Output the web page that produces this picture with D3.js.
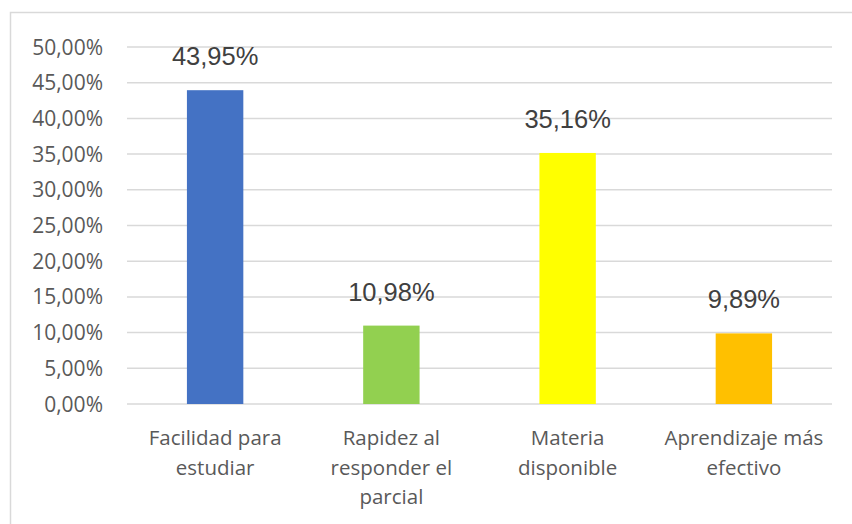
<!DOCTYPE html>
<html>
<head>
<meta charset="utf-8"/>
<script src="https://cdn.jsdelivr.net/npm/d3@7"></script>
<style>
html, body { margin: 0; padding: 0; background: #fff; }
.grid line { stroke: #d9d9d9; stroke-width: 1.5; }
.tick-label { font-family: "Open Sans", sans-serif; font-size: 21px; fill: #595959; }
.cat-label { font-family: "Open Sans", sans-serif; font-size: 20.5px; fill: #595959; }
.value-label { font-family: "Liberation Sans", Arial, sans-serif; font-size: 25.5px; fill: #404040; }
</style>
</head>
<body>
<svg id="chart" width="852" height="524"></svg>
<script>
// data
var categories = ["Facilidad para estudiar", "Rapidez al responder el parcial", "Materia disponible", "Aprendizaje más efectivo"];
var catLines = [["Facilidad para", "estudiar"], ["Rapidez al", "responder el", "parcial"], ["Materia", "disponible"], ["Aprendizaje más", "efectivo"]];
var values = [43.95, 10.98, 35.16, 9.89];
var colors = ["#4472c4", "#92d050", "#ffff00", "#ffc000"];
var yTicks = [0, 5, 10, 15, 20, 25, 30, 35, 40, 45, 50];

var fmt = function(v) { return v.toFixed(2).replace(".", ",") + "%"; };

var svg = d3.select("#chart");

// chart border
svg.append("rect")
  .attr("x", 10.5).attr("y", 12.5)
  .attr("width", 860).attr("height", 530)
  .attr("fill", "none").attr("stroke", "#d9d9d9").attr("stroke-width", 1.5);

var pLeft = 127, pRight = 832, pTop = 47, pBottom = 404;

var x = d3.scaleBand()
  .domain(categories)
  .range([pLeft, pRight])
  .paddingInner(0.68)
  .paddingOuter(0.34);

var y = d3.scaleLinear()
  .domain([0, 50])
  .range([pBottom, pTop]);

// gridlines
svg.append("g").attr("class", "grid")
  .selectAll("line")
  .data(yTicks)
  .enter().append("line")
  .attr("x1", pLeft).attr("x2", pRight)
  .attr("y1", function(d) { return y(d); })
  .attr("y2", function(d) { return y(d); });

// y tick labels
svg.append("g")
  .selectAll("text")
  .data(yTicks)
  .enter().append("text")
  .attr("class", "tick-label")
  .attr("x", 103)
  .attr("y", function(d) { return y(d); })
  .attr("dy", "0.36em")
  .attr("text-anchor", "end")
  .text(function(d) { return fmt(d); });

// bars
svg.append("g")
  .selectAll("rect")
  .data(values)
  .enter().append("rect")
  .attr("x", function(d, i) { return x(categories[i]); })
  .attr("width", x.bandwidth())
  .attr("y", function(d) { return y(d); })
  .attr("height", function(d) { return y(0) - y(d); })
  .attr("fill", function(d, i) { return colors[i]; });

// value labels
svg.append("g")
  .selectAll("text")
  .data(values)
  .enter().append("text")
  .attr("class", "value-label")
  .attr("x", function(d, i) { return x(categories[i]) + x.bandwidth() / 2; })
  .attr("y", function(d) { return y(d) - 25; })
  .attr("text-anchor", "middle")
  .text(function(d) { return fmt(d); });

// category labels
var cat = svg.append("g")
  .selectAll("text")
  .data(categories)
  .enter().append("text")
  .attr("class", "cat-label")
  .attr("text-anchor", "middle")
  .attr("transform", function(d) { return "translate(" + (x(d) + x.bandwidth() / 2) + ",445)"; });

cat.selectAll("tspan")
  .data(function(d, i) { return catLines[i]; })
  .enter().append("tspan")
  .attr("x", 0)
  .attr("dy", function(d, i) { return i === 0 ? 0 : 29.5; })
  .text(function(d) { return d; });
</script>
</body>
</html>
